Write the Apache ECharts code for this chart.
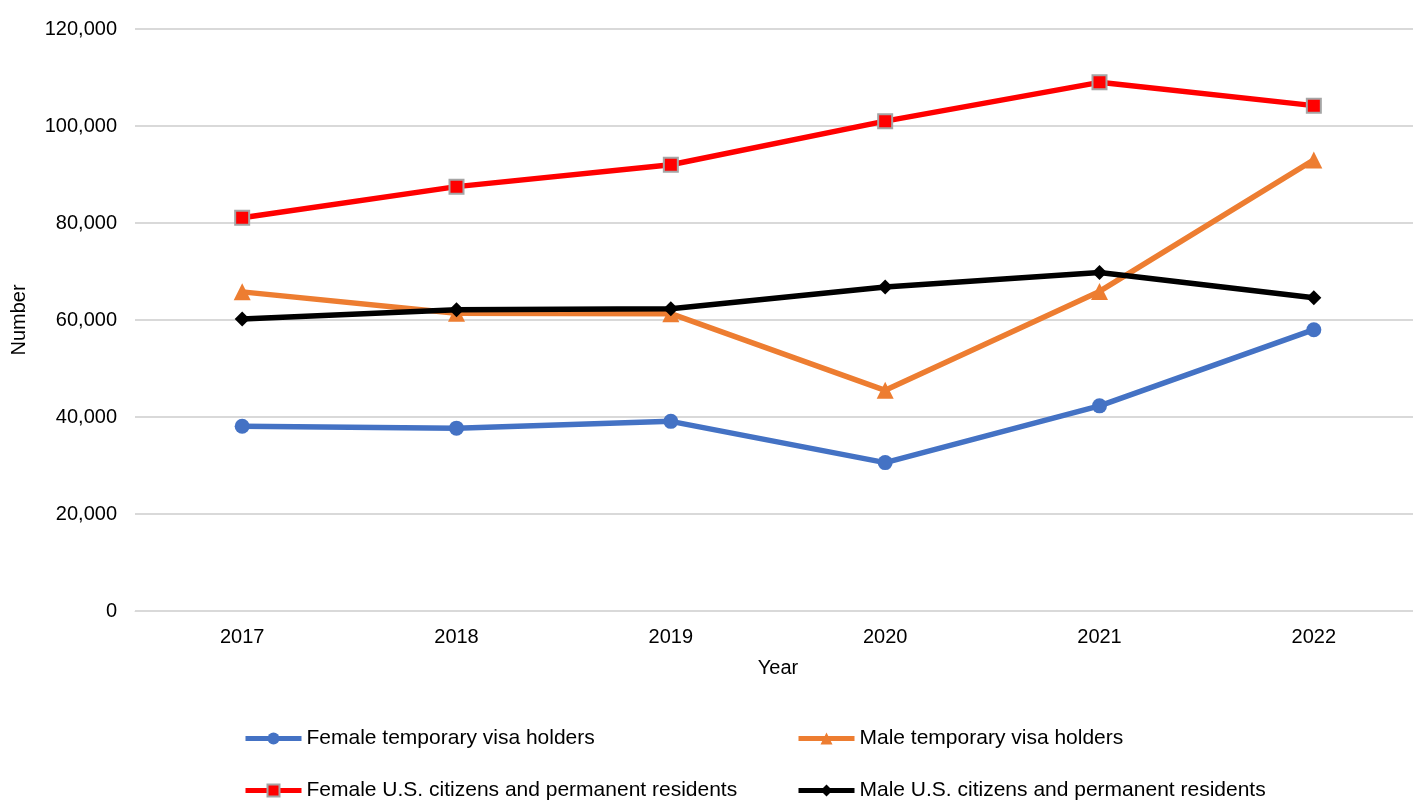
<!DOCTYPE html>
<html>
<head>
<meta charset="utf-8">
<script src="https://cdn.jsdelivr.net/npm/echarts@6/dist/echarts.min.js"></script>
<style>
	html, body { margin: 0; padding: 0; background: #fff; overflow: hidden; }
	#chart_box { width: 1421px; height: 800px; }
</style>
</head>
<body>
<div id="chart_box"></div>
<script type="text/javascript">
var years = ['2017', '2018', '2019', '2020', '2021', '2022'];
var femaleVisa = [38100, 37700, 39100, 30600, 42300, 58000];
var maleVisa = [65800, 61400, 61300, 45500, 65900, 93000];
var femaleCitizen = [81100, 87500, 92000, 101000, 109000, 104200];
var maleCitizen = [60200, 62100, 62300, 66800, 69800, 64600];

var fontFamily = '"Liberation Sans", Arial, sans-serif';
var myChart = echarts.init(document.getElementById('chart_box'));

function legendAt(name, left, top) {
	return {
		data: [name],
		left: left,
		top: top,
		itemWidth: 56,
		itemHeight: 15,
		itemGap: 4,
		lineStyle: { width: 5 },
		textStyle: { color: '#000', fontSize: 21, fontFamily: fontFamily }
	};
}

var option = {
	animation: false,
	legend: [
		legendAt('Female temporary visa holders', 238, 723),
		legendAt('Male temporary visa holders', 791, 723),
		legendAt('Female U.S. citizens and permanent residents', 238, 775),
		legendAt('Male U.S. citizens and permanent residents', 791, 775)
	],
	grid: { left: 135, top: 29, right: 0, height: 582 },
	xAxis: {
		type: 'category',
		data: years,
		name: 'Year',
		nameLocation: 'middle',
		nameGap: 47,
		nameTextStyle: { color: '#000', fontSize: 20, fontFamily: fontFamily },
		axisLine: { lineStyle: { color: '#d9d9d9', width: 1 } },
		axisTick: { show: false },
		axisLabel: { color: '#000', fontSize: 20, fontFamily: fontFamily, margin: 16 }
	},
	yAxis: {
		type: 'value',
		min: 0,
		max: 120000,
		interval: 20000,
		name: 'Number',
		nameLocation: 'middle',
		nameGap: 106,
		nameTextStyle: { color: '#000', fontSize: 20, fontFamily: fontFamily },
		axisLine: { show: false },
		axisTick: { show: false },
		splitLine: { lineStyle: { color: '#d9d9d9', width: 2 } },
		axisLabel: {
			color: '#000', fontSize: 20, fontFamily: fontFamily, margin: 18,
			formatter: function (v) { return v.toLocaleString('en-US'); }
		}
	},
	series: [
		{
			name: 'Female temporary visa holders',
			type: 'line',
			data: femaleVisa,
			symbol: 'circle',
			symbolSize: 15,
			lineStyle: { color: '#4472C4', width: 5.5 },
			itemStyle: { color: '#4472C4' }
		},
		{
			name: 'Male temporary visa holders',
			type: 'line',
			data: maleVisa,
			symbol: 'triangle',
			symbolSize: 17,
			lineStyle: { color: '#ED7D31', width: 5.5 },
			itemStyle: { color: '#ED7D31' }
		},
		{
			name: 'Female U.S. citizens and permanent residents',
			type: 'line',
			data: femaleCitizen,
			symbol: 'rect',
			symbolSize: 14,
			lineStyle: { color: '#FF0000', width: 5.5 },
			itemStyle: { color: '#FF0000', borderColor: '#a5a5a5', borderWidth: 2 }
		},
		{
			name: 'Male U.S. citizens and permanent residents',
			type: 'line',
			data: maleCitizen,
			symbol: 'diamond',
			symbolSize: 15,
			lineStyle: { color: '#000000', width: 5.5 },
			itemStyle: { color: '#000000' }
		}
	]
};
myChart.setOption(option);
</script>
</body>
</html>
